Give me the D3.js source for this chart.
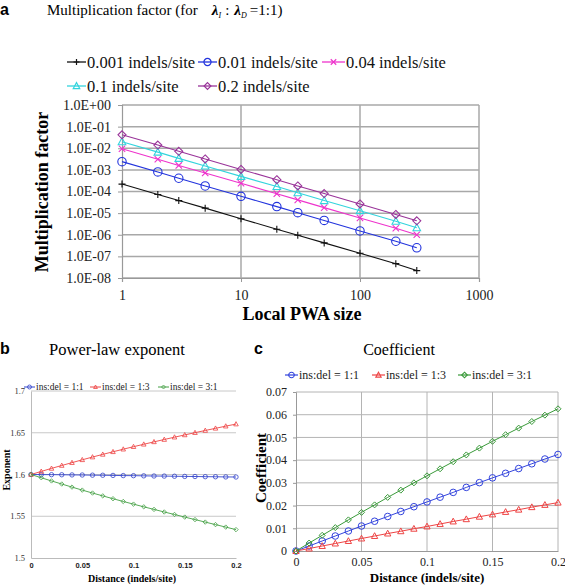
<!DOCTYPE html>
<html><head><meta charset="utf-8">
<script src="https://cdn.jsdelivr.net/npm/d3@7"></script>
<style>body{margin:0;background:#fff}svg{display:block}</style>
</head><body>
<script>
// ---------- Panel a data ----------
const pwaSizes = [1, 2, 3, 5, 10, 20, 30, 50, 100, 200, 300];
const seriesNamesA = ["0.001 indels/site", "0.01 indels/site", "0.04 indels/site", "0.1 indels/site", "0.2 indels/site"];
const mf0001 = [2.2e-4, 7.3e-5, 3.8e-5, 1.7e-5, 5.5e-6, 1.8e-6, 9.5e-7, 4.2e-7, 1.4e-7, 4.6e-8, 2.2e-8];
const mf001  = [2.4e-3, 8.0e-4, 4.1e-4, 1.8e-4, 6.0e-5, 2.0e-5, 1.05e-5, 4.6e-6, 1.5e-6, 5.0e-7, 2.5e-7];
const mf004  = [9.5e-3, 3.1e-3, 1.6e-3, 7.2e-4, 2.4e-4, 7.9e-5, 4.1e-5, 1.8e-5, 6.0e-6, 2.0e-6, 1.0e-6];
const mf01   = [2.0e-2, 6.6e-3, 3.4e-3, 1.5e-3, 5.0e-4, 1.7e-4, 8.7e-5, 3.8e-5, 1.3e-5, 4.2e-6, 2.1e-6];
const mf02   = [4.2e-2, 1.4e-2, 7.2e-3, 3.2e-3, 1.05e-3, 3.5e-4, 1.8e-4, 8.0e-5, 2.65e-5, 8.7e-6, 4.4e-6];
const yTickExpA = [0, -1, -2, -3, -4, -5, -6, -7, -8];
const xTicksA = [1, 10, 100, 1000];

// ---------- Panels b, c data ----------
const distances = [0, 0.01, 0.02, 0.03, 0.04, 0.05, 0.06, 0.07, 0.08, 0.09, 0.1,
                   0.11, 0.12, 0.13, 0.14, 0.15, 0.16, 0.17, 0.18, 0.19, 0.2];
const ratioNames = ["ins:del = 1:1", "ins:del = 1:3", "ins:del = 3:1"];
const expo11 = [1.600, 1.5999, 1.5998, 1.5997, 1.5995, 1.5994, 1.5992, 1.5991, 1.5989, 1.5987, 1.5986,
                1.5984, 1.5982, 1.5981, 1.5979, 1.5977, 1.5976, 1.5974, 1.5973, 1.5971, 1.5970];
const expo13 = [1.600, 1.6037, 1.6073, 1.6108, 1.6142, 1.6176, 1.6209, 1.6241, 1.6272, 1.6303, 1.6333,
                1.6362, 1.6391, 1.6419, 1.6447, 1.6474, 1.6501, 1.6527, 1.6553, 1.6579, 1.6604];
const expo31 = [1.600, 1.5961, 1.5923, 1.5886, 1.5849, 1.5813, 1.5778, 1.5744, 1.5710, 1.5677, 1.5645,
                1.5613, 1.5582, 1.5551, 1.5521, 1.5490, 1.5460, 1.5430, 1.5400, 1.5370, 1.5340];
const coef11 = [0, 0.0022, 0.0044, 0.0066, 0.0088, 0.0110, 0.0131, 0.0152, 0.0174, 0.0195, 0.0216,
                0.0237, 0.0258, 0.0280, 0.0301, 0.0322, 0.0342, 0.0363, 0.0384, 0.0405, 0.0425];
const coef13 = [0, 0.0011, 0.0022, 0.0033, 0.0044, 0.0055, 0.0066, 0.0077, 0.0087, 0.0098, 0.0108,
                0.0119, 0.0130, 0.0140, 0.0151, 0.0161, 0.0172, 0.0182, 0.0193, 0.0203, 0.0213];
const coef31 = [0, 0.0035, 0.0069, 0.0103, 0.0137, 0.0170, 0.0203, 0.0236, 0.0268, 0.0300, 0.0331,
                0.0362, 0.0393, 0.0423, 0.0453, 0.0483, 0.0512, 0.0541, 0.0570, 0.0598, 0.0626];
const yTicksB = [1.5, 1.55, 1.6, 1.65, 1.7];
const xTicksBC = [0, 0.05, 0.1, 0.15, 0.2];
const yTicksC = [0, 0.01, 0.02, 0.03, 0.04, 0.05, 0.06, 0.07];

const SERIF = "Liberation Serif, Times New Roman, serif";
const SANS = "Liberation Sans, Arial, sans-serif";

const svg = d3.select("body").append("svg").attr("width", 565).attr("height", 586);

function markerPath(type, s) {
  switch (type) {
    case "plus": return `M${-s},0H${s}M0,${-s}V${s}`;
    case "x": return `M${-s},${-s}L${s},${s}M${s},${-s}L${-s},${s}`;
    case "circle": return `M${s},0A${s},${s} 0 1,1 ${-s},0A${s},${s} 0 1,1 ${s},0Z`;
    case "triangle": return `M0,${-s}L${s * 0.95},${s * 0.75}L${-s * 0.95},${s * 0.75}Z`;
    case "diamond": return `M0,${-s}L${s},0L0,${s}L${-s},0Z`;
  }
}
function drawMarker(g, type, x, y, s, color, sw) {
  g.append("path").attr("transform", `translate(${x},${y})`).attr("d", markerPath(type, s))
    .attr("fill", "none").attr("stroke", color).attr("stroke-width", sw);
}

// ================= Panel a =================
const xA = d3.scaleLog().domain([1, 1000]).range([122, 479]);
const yA = d3.scaleLog().domain([1e-8, 1]).range([278, 105]);
const gA = svg.append("g");

svg.append("text").attr("x", 0).attr("y", 15).attr("font-family", SANS).attr("font-weight", "bold")
  .attr("font-size", 16).text("a");
const tA = svg.append("text").attr("x", 47).attr("y", 15).attr("font-family", SERIF).attr("font-size", 15);
tA.append("tspan").text("Multiplication factor (for");
tA.append("tspan").attr("dx", 14).attr("font-weight", "bold").attr("font-style", "italic").text("λ");
tA.append("tspan").attr("font-size", 8).attr("font-style", "italic").attr("dy", 3).text("I");
tA.append("tspan").attr("dy", -3).attr("dx", 4).text(":");
tA.append("tspan").attr("dx", 5).attr("font-weight", "bold").attr("font-style", "italic").text("λ");
tA.append("tspan").attr("font-size", 8).attr("font-style", "italic").attr("dy", 3).text("D");
tA.append("tspan").attr("dy", -3).attr("dx", 3).text("=1:1)");

// grid
gA.selectAll(".hg").data(yTickExpA).enter().append("line")
  .attr("x1", xA(1)).attr("x2", xA(1000)).attr("y1", d => yA(10 ** d)).attr("y2", d => yA(10 ** d))
  .attr("stroke", "#a8a8a8").attr("stroke-width", 1.5);
gA.selectAll(".vg").data(xTicksA.slice(1)).enter().append("line")
  .attr("x1", d => xA(d)).attr("x2", d => xA(d)).attr("y1", yA(1)).attr("y2", yA(1e-8))
  .attr("stroke", "#a8a8a8").attr("stroke-width", 1.5);

const axYA = gA.append("g").attr("transform", `translate(${xA(1)},0)`)
  .call(d3.axisLeft(yA).tickValues(yTickExpA.map(e => 10 ** e)).tickSize(4).tickPadding(7)
    .tickFormat(d => { const e = Math.round(Math.log10(d)); return "1.0E" + (e >= 0 ? "+" : "-") + String(Math.abs(e)).padStart(2, "0"); }));
const axXA = gA.append("g").attr("transform", `translate(0,${yA(1e-8)})`)
  .call(d3.axisBottom(xA).tickValues(xTicksA).tickSize(4).tickPadding(8).tickFormat(d3.format("d")));
[axYA, axXA].forEach(ax => {
  ax.attr("font-family", SERIF);
  ax.select(".domain").attr("stroke", "#999").attr("stroke-width", 1.2);
  ax.selectAll(".tick line").attr("stroke", "#999");
  ax.selectAll("text").attr("font-family", SERIF).attr("font-size", 14).attr("fill", "#222");
});

svg.append("text").attr("x", 302).attr("y", 320).attr("text-anchor", "middle")
  .attr("font-family", SERIF).attr("font-weight", "bold").attr("font-size", 18).text("Local PWA size");
svg.append("text").attr("transform", "translate(48,192) rotate(-90)").attr("text-anchor", "middle")
  .attr("font-family", SERIF).attr("font-weight", "bold").attr("font-size", 18).text("Multiplication factor");

const seriesA = [
  { name: seriesNamesA[0], vals: mf0001, color: "#111111", mk: "plus", s: 3.5 },
  { name: seriesNamesA[1], vals: mf001, color: "#2233dd", mk: "circle", s: 4.2 },
  { name: seriesNamesA[2], vals: mf004, color: "#ee33cc", mk: "x", s: 3.2 },
  { name: seriesNamesA[3], vals: mf01, color: "#33d4dd", mk: "triangle", s: 4 },
  { name: seriesNamesA[4], vals: mf02, color: "#993399", mk: "diamond", s: 4 }
];
const lineA = d3.line().x(d => xA(d[0])).y(d => yA(d[1]));
seriesA.forEach(S => {
  const pts = pwaSizes.map((x, i) => [x, S.vals[i]]);
  gA.append("path").attr("d", lineA(pts)).attr("fill", "none").attr("stroke", S.color).attr("stroke-width", 1.1);
  pts.forEach(p => drawMarker(gA, S.mk, xA(p[0]), yA(p[1]), S.s, S.color, 1.1));
});
// legend a
const legPosA = [[67, 62], [198, 62], [322, 62], [67, 86], [198, 86]];
seriesA.forEach((S, i) => {
  const [lx, ly] = legPosA[i];
  const w = i === 2 ? 23 : 19;
  svg.append("line").attr("x1", lx).attr("x2", lx + w).attr("y1", ly).attr("y2", ly)
    .attr("stroke", S.color).attr("stroke-width", 1.3);
  drawMarker(svg, S.mk, lx + w / 2, ly, S.s * 0.85, S.color, 1.2);
  svg.append("text").attr("x", lx + w + 1).attr("y", ly + 5.5).attr("font-family", SERIF)
    .attr("font-size", 16.5).attr("fill", "#111").text(S.name);
});

// ================= Panel b =================
const xB = d3.scaleLinear().domain([0, 0.2]).range([31, 236]);
const yB = d3.scaleLinear().domain([1.5, 1.7]).range([558, 391]);
const gB = svg.append("g");
svg.append("text").attr("x", 0).attr("y", 354).attr("font-family", SANS).attr("font-weight", "bold")
  .attr("font-size", 16).text("b");
svg.append("text").attr("x", 117).attr("y", 355).attr("text-anchor", "middle").attr("font-family", SERIF)
  .attr("font-size", 16.5).text("Power-law exponent");

gB.selectAll(".hg").data(yTicksB.slice(1)).enter().append("line")
  .attr("x1", xB(0)).attr("x2", xB(0.2)).attr("y1", d => yB(d)).attr("y2", d => yB(d))
  .attr("stroke", "#c8c8c8").attr("stroke-width", 1);
const axYB = gB.append("g").attr("transform", `translate(${xB(0)},0)`)
  .call(d3.axisLeft(yB).tickValues(yTicksB).tickSize(0).tickPadding(6).tickFormat(d => String(d)));
axYB.attr("font-family", SERIF);
axYB.selectAll("text").attr("font-family", SERIF).attr("font-size", 8.5).attr("fill", "#333");
const axXB = gB.append("g").attr("transform", `translate(0,${yB(1.5)})`)
  .call(d3.axisBottom(xB).tickValues(xTicksBC).tickSize(0).tickPadding(5).tickFormat(d => String(d)));
axXB.selectAll("text").attr("font-family", SANS).attr("font-weight", "bold").attr("font-size", 7.5).attr("fill", "#222");
[axYB, axXB].forEach(ax => ax.select(".domain").attr("stroke", "#bbb").attr("stroke-width", 1));

svg.append("text").attr("x", 132).attr("y", 582).attr("text-anchor", "middle").attr("font-family", SERIF)
  .attr("font-weight", "bold").attr("font-size", 10).text("Distance (indels/site)");
svg.append("text").attr("transform", "translate(10,470) rotate(-90)").attr("text-anchor", "middle")
  .attr("font-family", SERIF).attr("font-weight", "bold").attr("font-size", 10).text("Exponent");

const seriesB = [
  { name: ratioNames[0], vals: expo11, color: "#3344cc", mk: "circle", s: 2.2 },
  { name: ratioNames[1], vals: expo13, color: "#ee4444", mk: "triangle", s: 2.4 },
  { name: ratioNames[2], vals: expo31, color: "#44a044", mk: "diamond", s: 2.2 }
];
const lineB = d3.line().x(d => xB(d[0])).y(d => yB(d[1]));
seriesB.forEach(S => {
  const pts = distances.map((x, i) => [x, S.vals[i]]);
  gB.append("path").attr("d", lineB(pts)).attr("fill", "none").attr("stroke", S.color).attr("stroke-width", 0.9);
  pts.forEach(p => drawMarker(gB, S.mk, xB(p[0]), yB(p[1]), S.s, S.color, 0.8));
});
const legPosB = [24, 90, 158];
seriesB.forEach((S, i) => {
  const lx = legPosB[i], ly = 387;
  svg.append("line").attr("x1", lx).attr("x2", lx + 11).attr("y1", ly).attr("y2", ly)
    .attr("stroke", S.color).attr("stroke-width", 1);
  drawMarker(svg, S.mk, lx + 5.5, ly, 2, S.color, 0.8);
  svg.append("text").attr("x", lx + 12).attr("y", ly + 3).attr("font-family", SERIF)
    .attr("font-size", 9.5).attr("fill", "#222").text(S.name);
});

// ================= Panel c =================
const xC = d3.scaleLinear().domain([0, 0.2]).range([296, 558]);
const yC = d3.scaleLinear().domain([0, 0.07]).range([551, 392]);
const gC = svg.append("g");
svg.append("text").attr("x", 254).attr("y", 354).attr("font-family", SANS).attr("font-weight", "bold")
  .attr("font-size", 16).text("c");
svg.append("text").attr("x", 399).attr("y", 355).attr("text-anchor", "middle").attr("font-family", SERIF)
  .attr("font-size", 16).text("Coefficient");

gC.selectAll(".hg").data(yTicksC.slice(1)).enter().append("line")
  .attr("x1", xC(0)).attr("x2", xC(0.2)).attr("y1", d => yC(d)).attr("y2", d => yC(d))
  .attr("stroke", "#b4b4b4").attr("stroke-width", 1);
gC.selectAll(".vg").data(xTicksBC.slice(1)).enter().append("line")
  .attr("x1", d => xC(d)).attr("x2", d => xC(d)).attr("y1", yC(0)).attr("y2", yC(0.07))
  .attr("stroke", "#b4b4b4").attr("stroke-width", 1);
const axYC = gC.append("g").attr("transform", `translate(${xC(0)},0)`)
  .call(d3.axisLeft(yC).tickValues(yTicksC).tickSize(3).tickPadding(6).tickFormat(d => String(+d.toFixed(2))));
const axXC = gC.append("g").attr("transform", `translate(0,${yC(0)})`)
  .call(d3.axisBottom(xC).tickValues(xTicksBC).tickSize(0).tickPadding(6).tickFormat(d => String(d)));
[axYC, axXC].forEach(ax => {
  ax.attr("font-family", SERIF);
  ax.select(".domain").attr("stroke", "#999").attr("stroke-width", 1);
  ax.selectAll(".tick line").attr("stroke", "#999");
  ax.selectAll("text").attr("font-family", SERIF).attr("font-size", 12).attr("fill", "#222");
});
svg.append("text").attr("x", 427).attr("y", 582).attr("text-anchor", "middle").attr("font-family", SERIF)
  .attr("font-weight", "bold").attr("font-size", 13).text("Distance (indels/site)");
svg.append("text").attr("transform", "translate(266,468) rotate(-90)").attr("text-anchor", "middle")
  .attr("font-family", SERIF).attr("font-weight", "bold").attr("font-size", 15).text("Coefficient");

const seriesC = [
  { name: ratioNames[0], vals: coef11, color: "#3344dd", mk: "circle", s: 3.3 },
  { name: ratioNames[1], vals: coef13, color: "#ee4444", mk: "triangle", s: 3.3 },
  { name: ratioNames[2], vals: coef31, color: "#3a9a3a", mk: "diamond", s: 3 }
];
const lineC = d3.line().x(d => xC(d[0])).y(d => yC(d[1]));
seriesC.forEach(S => {
  const pts = distances.map((x, i) => [x, S.vals[i]]);
  gC.append("path").attr("d", lineC(pts)).attr("fill", "none").attr("stroke", S.color).attr("stroke-width", 1);
  pts.forEach(p => drawMarker(gC, S.mk, xC(p[0]), yC(p[1]), S.s, S.color, 1));
});
const legPosC = [285, 372, 458];
seriesC.forEach((S, i) => {
  const lx = legPosC[i], ly = 375;
  svg.append("line").attr("x1", lx).attr("x2", lx + 13).attr("y1", ly).attr("y2", ly)
    .attr("stroke", S.color).attr("stroke-width", 1.2);
  drawMarker(svg, S.mk, lx + 6.5, ly, 2.8, S.color, 1.1);
  svg.append("text").attr("x", lx + 14).attr("y", ly + 4).attr("font-family", SERIF)
    .attr("font-size", 12).attr("fill", "#222").text(S.name);
});
</script>
</body></html>
